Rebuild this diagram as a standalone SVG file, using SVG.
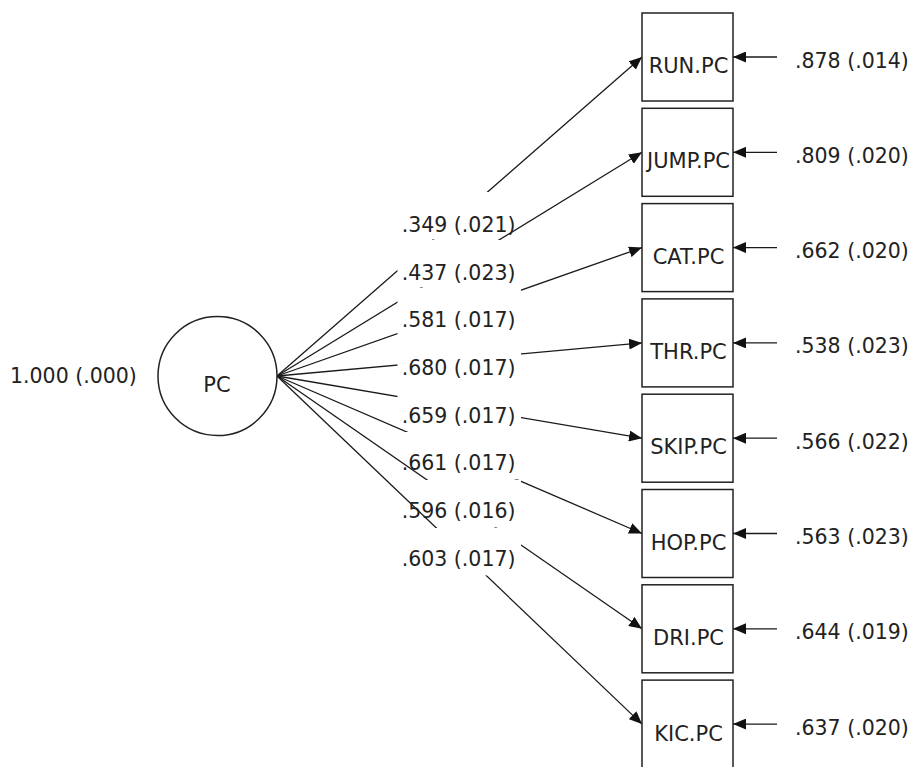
<svg xmlns="http://www.w3.org/2000/svg" xmlns:xlink="http://www.w3.org/1999/xlink" width="912" height="767" viewBox="0 0 912 767">
<style>
  .t { font-family: "DejaVu Sans", Verdana, sans-serif; fill: #222; }
  .num { font-size: 20.5px; }
  .box { fill: #fff; stroke: #222; stroke-width: 1.5; }
  .nm { font-size: 21px; text-anchor: middle; }
  .ln { stroke: #1a1a1a; stroke-width: 1.3; fill: none; }
</style>
<defs>
  <marker id="ah" markerUnits="userSpaceOnUse" markerWidth="13" markerHeight="11" refX="13" refY="5.5" orient="auto">
    <path d="M0,0 L13,5.5 L0,11 z" fill="#111"/>
  </marker>
  <rect id="b0" x="397.5" y="192" width="123.5" height="47.4"/>
  <rect id="b1" x="397.5" y="240" width="123.5" height="47.4"/>
  <rect id="b2" x="397.5" y="288" width="123.5" height="47.4"/>
  <rect id="b3" x="397.5" y="336" width="123.5" height="47.4"/>
  <rect id="b4" x="397.5" y="384" width="123.5" height="47.4"/>
  <rect id="b5" x="397.5" y="432" width="123.5" height="47.4"/>
  <rect id="b6" x="397.5" y="480" width="123.5" height="47.4"/>
  <rect id="b7" x="397.5" y="528" width="123.5" height="47.4"/>
  <mask id="m0" maskUnits="userSpaceOnUse" x="0" y="0" width="912" height="767"><rect width="912" height="767" fill="#fff"/><g fill="#000"><use xlink:href="#b0"/><use xlink:href="#b1"/><use xlink:href="#b2"/><use xlink:href="#b3"/><use xlink:href="#b4"/><use xlink:href="#b5"/><use xlink:href="#b6"/><use xlink:href="#b7"/></g></mask>
  <mask id="m1" maskUnits="userSpaceOnUse" x="0" y="0" width="912" height="767"><rect width="912" height="767" fill="#fff"/><g fill="#000"><use xlink:href="#b1"/><use xlink:href="#b2"/><use xlink:href="#b3"/><use xlink:href="#b4"/><use xlink:href="#b5"/><use xlink:href="#b6"/><use xlink:href="#b7"/></g></mask>
  <mask id="m2" maskUnits="userSpaceOnUse" x="0" y="0" width="912" height="767"><rect width="912" height="767" fill="#fff"/><g fill="#000"><use xlink:href="#b2"/><use xlink:href="#b3"/><use xlink:href="#b4"/><use xlink:href="#b5"/><use xlink:href="#b6"/><use xlink:href="#b7"/></g></mask>
  <mask id="m3" maskUnits="userSpaceOnUse" x="0" y="0" width="912" height="767"><rect width="912" height="767" fill="#fff"/><g fill="#000"><use xlink:href="#b3"/><use xlink:href="#b4"/><use xlink:href="#b5"/><use xlink:href="#b6"/><use xlink:href="#b7"/></g></mask>
  <mask id="m4" maskUnits="userSpaceOnUse" x="0" y="0" width="912" height="767"><rect width="912" height="767" fill="#fff"/><g fill="#000"><use xlink:href="#b4"/><use xlink:href="#b5"/><use xlink:href="#b6"/><use xlink:href="#b7"/></g></mask>
  <mask id="m5" maskUnits="userSpaceOnUse" x="0" y="0" width="912" height="767"><rect width="912" height="767" fill="#fff"/><g fill="#000"><use xlink:href="#b5"/><use xlink:href="#b6"/><use xlink:href="#b7"/></g></mask>
  <mask id="m6" maskUnits="userSpaceOnUse" x="0" y="0" width="912" height="767"><rect width="912" height="767" fill="#fff"/><g fill="#000"><use xlink:href="#b6"/><use xlink:href="#b7"/></g></mask>
  <mask id="m7" maskUnits="userSpaceOnUse" x="0" y="0" width="912" height="767"><rect width="912" height="767" fill="#fff"/><g fill="#000"><use xlink:href="#b7"/></g></mask>
</defs>
<rect width="912" height="767" fill="#fff"/>

<g id="connectors">
  <line class="ln" x1="277" y1="376" x2="642" y2="57" mask="url(#m0)" marker-end="url(#ah)"/>
  <line class="ln" x1="277" y1="376" x2="642" y2="152.3" mask="url(#m1)" marker-end="url(#ah)"/>
  <line class="ln" x1="277" y1="376" x2="642" y2="247.6" mask="url(#m2)" marker-end="url(#ah)"/>
  <line class="ln" x1="277" y1="376" x2="642" y2="342.9" mask="url(#m3)" marker-end="url(#ah)"/>
  <line class="ln" x1="277" y1="376" x2="642" y2="438.2" mask="url(#m4)" marker-end="url(#ah)"/>
  <line class="ln" x1="277" y1="376" x2="642" y2="533.5" mask="url(#m5)" marker-end="url(#ah)"/>
  <line class="ln" x1="277" y1="376" x2="642" y2="628.8" mask="url(#m6)" marker-end="url(#ah)"/>
  <line class="ln" x1="277" y1="376" x2="642" y2="724.1" mask="url(#m7)" marker-end="url(#ah)"/>
  <line class="ln" x1="777" y1="57" x2="733" y2="57" marker-end="url(#ah)"/>
  <line class="ln" x1="777" y1="152.3" x2="733" y2="152.3" marker-end="url(#ah)"/>
  <line class="ln" x1="777" y1="247.6" x2="733" y2="247.6" marker-end="url(#ah)"/>
  <line class="ln" x1="777" y1="342.9" x2="733" y2="342.9" marker-end="url(#ah)"/>
  <line class="ln" x1="777" y1="438.2" x2="733" y2="438.2" marker-end="url(#ah)"/>
  <line class="ln" x1="777" y1="533.5" x2="733" y2="533.5" marker-end="url(#ah)"/>
  <line class="ln" x1="777" y1="628.8" x2="733" y2="628.8" marker-end="url(#ah)"/>
  <line class="ln" x1="777" y1="724.1" x2="733" y2="724.1" marker-end="url(#ah)"/>
</g>

<g id="path-labels" class="t num">
  <text x="401.7" y="232">.349 (.021)</text>
  <text x="401.7" y="279.7">.437 (.023)</text>
  <text x="401.7" y="327.3">.581 (.017)</text>
  <text x="401.7" y="375">.680 (.017)</text>
  <text x="401.7" y="422.7">.659 (.017)</text>
  <text x="401.7" y="470.3">.661 (.017)</text>
  <text x="401.7" y="518">.596 (.016)</text>
  <text x="401.7" y="565.7">.603 (.017)</text>
</g>

<g id="PC">
  <circle cx="217.5" cy="376" r="59.5" fill="#fff" stroke="#222" stroke-width="1.5"/>
  <text class="t nm" x="217" y="392">PC</text>
  <text class="t num" x="10" y="383">1.000 (.000)</text>
</g>

<g id="RUN">
  <rect class="box" x="642" y="13" width="91" height="88"/>
  <text class="t nm" x="688.5" y="73">RUN.PC</text>
  <text class="t num" x="795" y="67.5">.878 (.014)</text>
</g>
<g id="JUMP">
  <rect class="box" x="642" y="108.3" width="91" height="88"/>
  <text class="t nm" x="688.5" y="168.3">JUMP.PC</text>
  <text class="t num" x="795" y="162.8">.809 (.020)</text>
</g>
<g id="CAT">
  <rect class="box" x="642" y="203.6" width="91" height="88"/>
  <text class="t nm" x="688.5" y="263.6">CAT.PC</text>
  <text class="t num" x="795" y="258.1">.662 (.020)</text>
</g>
<g id="THR">
  <rect class="box" x="642" y="298.9" width="91" height="88"/>
  <text class="t nm" x="688.5" y="358.9">THR.PC</text>
  <text class="t num" x="795" y="353.4">.538 (.023)</text>
</g>
<g id="SKIP">
  <rect class="box" x="642" y="394.2" width="91" height="88"/>
  <text class="t nm" x="688.5" y="454.2">SKIP.PC</text>
  <text class="t num" x="795" y="448.7">.566 (.022)</text>
</g>
<g id="HOP">
  <rect class="box" x="642" y="489.5" width="91" height="88"/>
  <text class="t nm" x="688.5" y="549.8">HOP.PC</text>
  <text class="t num" x="795" y="544">.563 (.023)</text>
</g>
<g id="DRI">
  <rect class="box" x="642" y="584.8" width="91" height="88"/>
  <text class="t nm" x="688.5" y="645">DRI.PC</text>
  <text class="t num" x="795" y="639.3">.644 (.019)</text>
</g>
<g id="KIC">
  <rect class="box" x="642" y="680.1" width="91" height="88"/>
  <text class="t nm" x="688.5" y="741">KIC.PC</text>
  <text class="t num" x="795" y="734.6">.637 (.020)</text>
</g>
</svg>
